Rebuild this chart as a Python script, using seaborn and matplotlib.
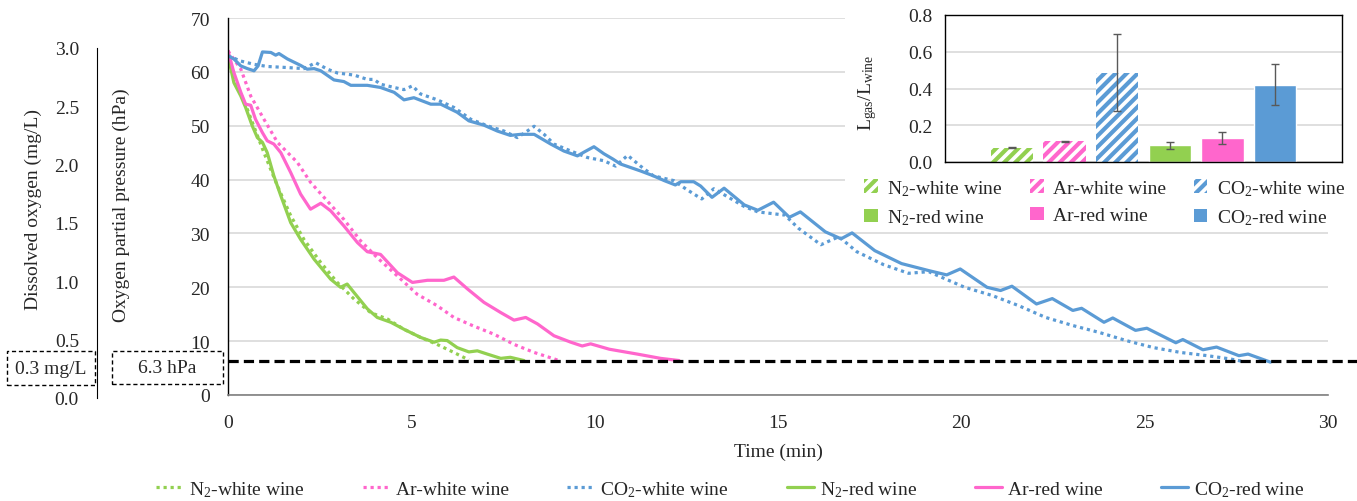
import matplotlib
matplotlib.use("Agg")
import matplotlib.pyplot as plt
from matplotlib.patches import Patch, Rectangle
from matplotlib.lines import Line2D
import pandas as pd
import seaborn as sns

sns.set_style("white")
plt.rcParams["font.family"] = ["Liberation Serif", "DejaVu Serif"]
plt.rcParams["mathtext.fontset"] = "custom"
plt.rcParams["mathtext.rm"] = "Liberation Serif"
plt.rcParams["mathtext.it"] = "Liberation Serif:italic"
plt.rcParams["hatch.linewidth"] = 3.0

GREEN = "#92D050"
PINK = "#FF66CC"
BLUE = "#5B9BD5"
FS = 14

# oxygen partial pressure curves (hPa) vs time (min)
t_n2_white = [0, 0.25, 0.53, 0.98, 1.35, 1.71, 2.07, 2.53, 2.98, 3.44, 3.89, 4.35,
              4.8, 5.25, 5.7, 6.16, 6.57]
p_n2_white = [63, 57.4, 53, 45, 38.8, 33.3, 28.9, 24.6, 20.9, 17.8, 15.3, 14.1,
              12.2, 10.7, 9.4, 7.9, 6.5]

t_n2_red = [0, 0.16, 0.35, 0.48, 0.66, 0.8, 0.94, 1.07, 1.25, 1.44, 1.71, 1.98, 2.35,
            2.8, 3.07, 3.25, 3.44, 3.8, 4.07, 4.44, 4.8, 5.25, 5.62, 5.8, 5.98, 6.25,
            6.57, 6.8, 7.07, 7.44, 7.7, 8.07]
p_n2_red = [63, 58, 55.5, 53.4, 50, 47.8, 46.9, 45, 40.7, 37, 32, 28.9, 25.2,
            21.5, 20, 20.6, 19, 16, 14.4, 13.5, 12.2, 10.7, 9.8, 10.2, 10.1, 8.8,
            8.0, 8.2, 7.6, 6.8, 7.0, 6.4]

t_ar_white = [0, 0.35, 0.62, 0.98, 1.35, 1.89, 2.25, 2.71, 3.16, 3.62, 4.07, 4.62,
              5.16, 5.7, 6.16, 6.7, 7.25, 7.8, 8.35, 9.03]
p_ar_white = [63.9, 60.5, 55.5, 51.2, 46.9, 43.2, 39.5, 36, 32.6, 28.6, 25.5, 22.1,
              18.7, 16.6, 14.4, 12.8, 11.3, 9.4, 7.9, 6.4]

t_ar_red = [0, 0.16, 0.35, 0.48, 0.62, 0.75, 0.94, 1.07, 1.25, 1.44, 1.71, 1.98, 2.25,
            2.53, 2.8, 3.16, 3.53, 3.8, 4.16, 4.62, 5.03, 5.44, 5.89, 6.16, 6.53, 6.98,
            7.44, 7.8, 8.12, 8.44, 8.89, 9.35, 9.66, 9.89, 10.4, 11.16, 11.8, 12.3]
p_ar_red = [63.9, 59.9, 56.2, 54, 53.8, 51.2, 48.7, 47.2, 46.6, 45, 41.3, 37.3, 34.5,
            35.6, 34.2, 31.4, 28.3, 26.6, 26.1, 22.7, 20.9, 21.3, 21.3, 21.9, 19.7, 17.2,
            15.3, 13.9, 14.4, 13.2, 11, 9.8, 9.1, 9.5, 8.5, 7.6, 6.8, 6.4]

t_co2_white = [0, 0.35, 0.71, 1.07, 1.62, 2.07, 2.39, 2.71, 2.98, 3.44, 3.8, 3.98, 4.16,
               4.53, 4.8, 5.03, 5.25, 5.71, 6.16, 6.62, 7.07, 7.53, 7.89, 8.16, 8.35, 8.62,
               8.89, 9.35, 9.8, 10.25, 10.57, 10.9, 11.25, 11.6, 12.16, 12.5, 12.92, 13.25,
               14.08, 14.45, 15.19, 15.55, 16.17, 16.66, 17.15, 17.88, 18.56, 19.11, 20.09,
               20.83, 21.56, 22.3, 23.04, 23.77, 24.5, 25.24, 25.98, 26.71, 27.33, 27.7]
p_co2_white = [63, 62, 61.4, 61, 60.8, 60.6, 61.7, 60.5, 59.8, 59.4, 58.6, 58.6, 57.7,
               57.1, 56.7, 57.4, 55.9, 54.8, 53.4, 51.2, 50, 49, 47.8, 49, 49.9, 48.4,
               46.6, 45.3, 44.1, 43.5, 42.5, 44.5, 42.5, 40.7, 39.8, 38.2, 36.4, 38.3,
               35.0, 34.0, 33.4, 31.0, 27.9, 29.4, 26.6, 24.2, 22.6, 22.9, 20.0,
               18.5, 16.6, 14.4, 12.9, 11.6, 10.1, 8.8, 7.9, 7.3, 6.7, 6.2]

t_co2_red = [0, 0.16, 0.35, 0.53, 0.71, 0.82, 0.94, 1.17, 1.3, 1.39, 1.62, 1.98, 2.16,
             2.35, 2.53, 2.89, 3.16, 3.35, 3.8, 4.16, 4.53, 4.8, 5.07, 5.53, 5.8, 6.25,
             6.57, 6.98, 7.35, 7.7, 7.98, 8.35, 8.8, 9.16, 9.53, 9.71, 9.98, 10.25, 10.5,
             10.7, 11.25, 11.6, 11.9, 12.2, 12.35, 12.7, 12.89, 13.2, 13.53, 14.08, 14.45,
             14.88, 15.31, 15.61, 16.29, 16.72, 17.02, 17.64, 18.37, 19.11, 19.6, 19.97,
             20.7, 21.07, 21.38, 22.05, 22.48, 23.04, 23.28, 23.89, 24.13, 24.75, 25.06,
             25.85, 26.04, 26.59, 26.96, 27.57, 27.82, 28.43]
p_co2_red = [63, 62.4, 61.1, 60.6, 60.2, 61.1, 63.7, 63.6, 63.1, 63.4, 62.4, 61.2, 60.5,
             60.6, 60.2, 58.5, 58.2, 57.5, 57.5, 57.1, 56.2, 54.8, 55.2, 54, 54, 52.5,
             50.9, 50.1, 49, 48.2, 48.4, 48.4, 46.6, 45.3, 44.4, 45.1, 46.1, 44.8, 43.8,
             42.9, 41.6, 40.7, 39.8, 39, 39.6, 39.6, 38.8, 36.7, 38.4, 35.3, 34.3,
             35.8, 33.0, 34.0, 30.3, 29.0, 30.1, 26.8, 24.4, 23.1, 22.3, 23.4,
             20.0, 19.4, 20.2, 16.9, 17.9, 15.7, 16.1, 13.5, 14.3, 12.0, 12.4,
             9.7, 10.3, 8.4, 8.9, 7.3, 7.6, 6.1]

threshold_hpa = 6.3

# inset: gas/wine volume ratio
bar_labels = ["N2-white", "Ar-white", "CO2-white", "N2-red", "Ar-red", "CO2-red"]
bar_values = [0.078, 0.112, 0.485, 0.090, 0.132, 0.421]
bar_errors = [0.002, 0.002, 0.21, 0.017, 0.032, 0.113]

legend_names = ["N$_2$-white wine", "Ar-white wine", "CO$_2$-white wine",
                "N$_2$-red wine", "Ar-red wine", "CO$_2$-red wine"]
colors = [GREEN, PINK, BLUE, GREEN, PINK, BLUE]

fig = plt.figure(figsize=(13.57, 5.02), dpi=100)
W, H = 1357, 502

ax = fig.add_axes([228 / W, 1 - 396 / H, 1100 / W, 377 / H])

dot = (0, (1, 1.2))
series = [
    (t_n2_white, p_n2_white, GREEN, dot),
    (t_ar_white, p_ar_white, PINK, dot),
    (t_co2_white, p_co2_white, BLUE, dot),
    (t_n2_red, p_n2_red, GREEN, "-"),
    (t_ar_red, p_ar_red, PINK, "-"),
    (t_co2_red, p_co2_red, BLUE, "-"),
]
for t, p, c, ls in series:
    df = pd.DataFrame({"t": t, "p": p})
    sns.lineplot(data=df, x="t", y="p", ax=ax, color=c, lw=2.3, linestyle=ls)

ax.axhline(threshold_hpa, xmin=0, xmax=(W - 228) / 1100, color="black", lw=2.3,
           linestyle=(0, (3.2, 1.6)), clip_on=False)

ax.set_xlim(0, 30)
ax.set_ylim(0, 70)
ax.set_xticks(range(0, 31, 5))
ax.set_yticks(range(0, 71, 10))
ax.yaxis.grid(True, color="#D9D9D9", lw=1.2)
ax.set_axisbelow(True)
for s in ["top", "right"]:
    ax.spines[s].set_visible(False)
ax.spines["left"].set_color("black")
ax.spines["left"].set_linewidth(1)
ax.spines["bottom"].set_color("#808080")
ax.spines["bottom"].set_linewidth(1.2)
ax.tick_params(axis="y", length=5, width=1, color="black", pad=8, labelsize=FS)
ax.tick_params(axis="x", length=0, pad=14, labelsize=FS)
ax.set_xlabel("")
ax.set_ylabel("")

fig.text(778 / W, 1 - 452 / H, "Time (min)", ha="center", va="center", fontsize=FS)
fig.text(121 / W, 1 - 205 / H, "Oxygen partial pressure (hPa)", rotation=90,
         ha="center", va="center", fontsize=FS)
fig.text(33 / W, 1 - 210 / H, "Dissolved oxygen (mg/L)", rotation=90,
         ha="center", va="center", fontsize=FS)

# dissolved oxygen axis
ax2 = fig.add_axes([97 / W, 1 - 399 / H, 0.0001, 350 / H])
ax2.set_ylim(0, 3.0)
ax2.set_yticks([0, 0.5, 1.0, 1.5, 2.0, 2.5, 3.0])
ax2.set_yticklabels(["0.0", "0.5", "1.0", "1.5", "2.0", "2.5", "3.0"])
ax2.set_xticks([])
ax2.patch.set_alpha(0)
for s in ["top", "right", "bottom"]:
    ax2.spines[s].set_visible(False)
ax2.spines["left"].set_color("black")
ax2.tick_params(axis="y", length=5, width=1, color="black", pad=8, labelsize=FS)

# dashed threshold boxes
for (x0, y0, x1, y1), txt in [((7, 352, 95, 386), "0.3 mg/L"), ((112, 352, 223, 385), "6.3 hPa")]:
    fig.patches.append(Rectangle((x0 / W, 1 - y1 / H), (x1 - x0) / W, (y1 - y0) / H,
                                 transform=fig.transFigure, fill=False, ec="black",
                                 lw=1, ls=(0, (3, 2))))
    fig.text((x0 + x1) / 2 / W, 1 - (y0 + y1) / 2 / H, txt, ha="center", va="center",
             fontsize=FS)

# white panel behind the inset and its legend
fig.patches.append(Rectangle((845 / W, 1 - 230 / H), (W - 845) / W, 230 / H,
                             transform=fig.transFigure, fc="white", ec="none", zorder=1))

# inset bar chart
axi = fig.add_axes([945 / W, 1 - 163 / H, 397 / W, 147 / H])
axi.set_zorder(2)
sns.barplot(x=bar_labels, y=bar_values, hue=bar_labels, palette=colors, ax=axi,
            legend=False, width=0.8, saturation=1, errorbar=None)
for i, p in enumerate(axi.patches[:3]):
    p.set_facecolor("white")
    p.set_edgecolor(colors[i])
    p.set_hatch("///")
    p.set_linewidth(0)
axi.errorbar(range(6), bar_values, yerr=bar_errors, fmt="none", ecolor="#595959",
             elinewidth=1, capsize=3, capthick=1)
axi.set_xlim(-1.27, 6.27)
axi.set_ylim(0, 0.8)
axi.set_yticks([0, 0.2, 0.4, 0.6, 0.8])
axi.set_yticklabels(["0.0", "0.2", "0.4", "0.6", "0.8"])
axi.set_xticks([])
axi.yaxis.grid(True, color="#D9D9D9", lw=1.2)
axi.set_axisbelow(True)
for s in axi.spines.values():
    s.set_color("black")
    s.set_linewidth(1)
axi.tick_params(axis="y", length=5, width=1, color="black", pad=4, labelsize=FS)
axi.set_ylabel("")
axi.set_xlabel("")
fig.text(868 / W, 1 - 93 / H, r"L$_{\mathrm{gas}}$/L$_{\mathrm{wine}}$", rotation=90,
         ha="center", va="center", fontsize=FS, zorder=6)

bar_handles = []
for i in range(6):
    if i < 3:
        bar_handles.append(Patch(facecolor="white", edgecolor=colors[i], hatch="///", lw=0))
    else:
        bar_handles.append(Patch(facecolor=colors[i], lw=0))
order = [0, 3, 1, 4, 2, 5]
fig.legend([bar_handles[i] for i in order], [legend_names[i] for i in order], ncol=3,
           loc="upper left", bbox_to_anchor=(864 / W, 1 - 179 / H), frameon=False,
           fontsize=FS, handlelength=0.7, handleheight=0.7, handletextpad=0.5,
           columnspacing=1.4, labelspacing=0.5, borderpad=0, borderaxespad=0)

line_handles = [Line2D([], [], color=c, lw=2.3, linestyle=ls) for _, _, c, ls in series]
fig.legend(line_handles, legend_names, ncol=6, loc="center",
           bbox_to_anchor=(730 / W, 1 - 490 / H), frameon=False, fontsize=FS,
           handlelength=1.4, handletextpad=0.3, columnspacing=3.0, borderpad=0)

fig.savefig("out.png", dpi=100)
